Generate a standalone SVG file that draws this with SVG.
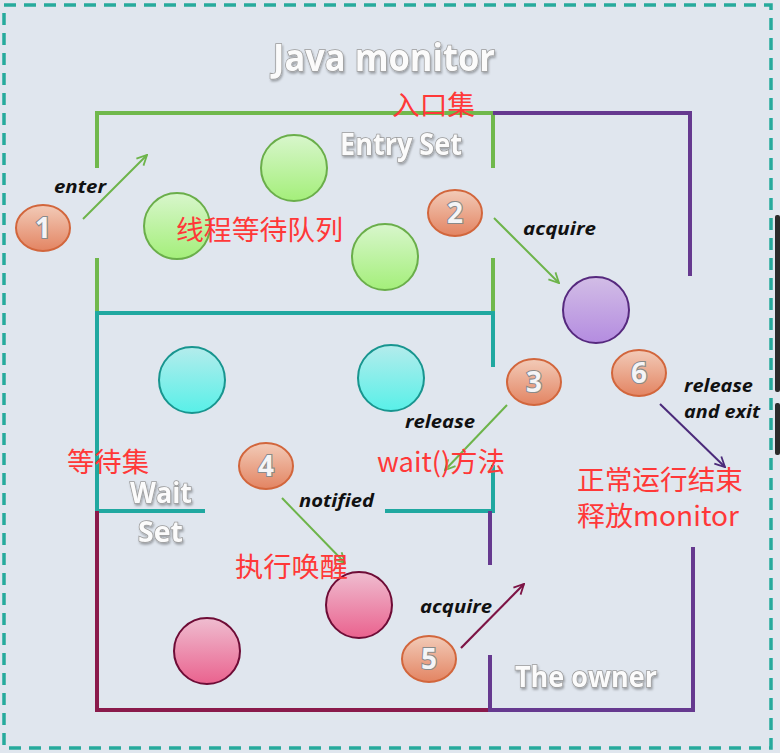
<svg xmlns="http://www.w3.org/2000/svg" width="780" height="753" viewBox="0 0 780 753">
<defs>
<linearGradient id="gGreen" x1="0" y1="0" x2="0" y2="1"><stop offset="0" stop-color="#d8f6cc"/><stop offset="1" stop-color="#a4ef7a"/></linearGradient>
<linearGradient id="gTeal" x1="0" y1="0" x2="0" y2="1"><stop offset="0" stop-color="#b4ecec"/><stop offset="1" stop-color="#58f0e8"/></linearGradient>
<linearGradient id="gPurple" x1="0" y1="0" x2="0" y2="1"><stop offset="0" stop-color="#d2bde6"/><stop offset="1" stop-color="#b48ce0"/></linearGradient>
<linearGradient id="gPink" x1="0" y1="0" x2="0" y2="1"><stop offset="0" stop-color="#efbdd0"/><stop offset="1" stop-color="#ea628e"/></linearGradient>
<linearGradient id="gOrange" x1="0" y1="0" x2="0" y2="1"><stop offset="0" stop-color="#f2cbb8"/><stop offset="1" stop-color="#e38462"/></linearGradient>
<filter id="shadow" x="-10%" y="-10%" width="120%" height="130%"><feDropShadow dx="1" dy="2" stdDeviation="1.2" flood-color="#000" flood-opacity="0.3"/></filter>
<marker id="mGreen" viewBox="0 0 12 12" refX="11" refY="6" markerWidth="12" markerHeight="12" markerUnits="userSpaceOnUse" orient="auto"><path d="M1,1 L11,6 L1,11" fill="none" stroke="#6db44a" stroke-width="1.8"/></marker>
<marker id="mPurple" viewBox="0 0 12 12" refX="11" refY="6" markerWidth="12" markerHeight="12" markerUnits="userSpaceOnUse" orient="auto"><path d="M1,1 L11,6 L1,11" fill="none" stroke="#4b2a7a" stroke-width="1.8"/></marker>
<marker id="mMaroon" viewBox="0 0 12 12" refX="11" refY="6" markerWidth="12" markerHeight="12" markerUnits="userSpaceOnUse" orient="auto"><path d="M1,1 L11,6 L1,11" fill="none" stroke="#7d1445" stroke-width="1.8"/></marker>
</defs>
<style>
.bg{fill:#e0e6ee}
.frame{fill:none;stroke:#26aa9c;stroke-width:3.5;stroke-dasharray:12 8}
.gl{fill:none;stroke:#70b84c;stroke-width:4}
.tl{fill:none;stroke:#20a8a0;stroke-width:4}
.pl{fill:none;stroke:#66398f;stroke-width:4}
.ml{fill:none;stroke:#8a1a4b;stroke-width:4}
.cg{fill:url(#gGreen);stroke:#6aae4a;stroke-width:2}
.ct{fill:url(#gTeal);stroke:#18958f;stroke-width:2}
.cp{fill:url(#gPurple);stroke:#56297e;stroke-width:2}
.ck{fill:url(#gPink);stroke:#6e0c36;stroke-width:2}
.badge{fill:url(#gOrange);stroke:#d2663c;stroke-width:2}
.num{font-family:"Open Sans","Liberation Sans",sans-serif;font-weight:bold;font-size:28px;fill:#f4f4f6;stroke:#8a8a8a;stroke-width:2.2;paint-order:stroke;text-anchor:middle}
.head{font-family:"Open Sans","Liberation Sans",sans-serif;font-weight:bold;fill:#fbfbfb;stroke:#9a9a9a;stroke-width:1.6;paint-order:stroke}
.lbl{font-family:"Open Sans","Liberation Sans",sans-serif;font-weight:bold;font-style:italic;font-size:17px;fill:#111}
.red{font-family:"Noto Sans CJK SC","Liberation Sans",sans-serif;font-size:27px;fill:#ff3838}
.ag{fill:none;stroke:#6db44a;stroke-width:2;marker-end:url(#mGreen)}
.ap{fill:none;stroke:#4b2a7a;stroke-width:2;marker-end:url(#mPurple)}
.am{fill:none;stroke:#7d1445;stroke-width:2.2;marker-end:url(#mMaroon)}
</style>
<rect class="bg" x="0" y="0" width="780" height="753"/>
<rect class="frame" x="4" y="5" width="767" height="743"/>
<rect x="775" y="215" width="5" height="177" rx="2" fill="#2b2b2b"/>
<rect x="775" y="403" width="5" height="52" rx="2" fill="#2b2b2b"/>

<g id="title"><text class="head" x="384" y="71" font-size="38" text-anchor="middle" textLength="222" lengthAdjust="spacingAndGlyphs" filter="url(#shadow)">Java monitor</text></g>

<g id="entry-set">
<path class="gl" d="M97,168 V113 H493 V168"/>
<path class="gl" d="M97,258 V313"/>
<path class="gl" d="M493,258 V313"/>
<text class="head" x="340" y="155" font-size="30" textLength="122" lengthAdjust="spacingAndGlyphs" filter="url(#shadow)">Entry Set</text>
<circle class="cg" cx="294" cy="168" r="33"/>
<circle class="cg" cx="177" cy="226" r="33"/>
<circle class="cg" cx="385" cy="257" r="33"/>
</g>

<g id="wait-set">
<path class="tl" d="M205,511 H97 V313 H493 V367"/>
<path class="tl" d="M385,511 H493 V465"/>
<text class="head" x="130" y="503" font-size="29" textLength="62" lengthAdjust="spacingAndGlyphs" filter="url(#shadow)">Wait</text>
<text class="head" x="138" y="542" font-size="29" textLength="45" lengthAdjust="spacingAndGlyphs" filter="url(#shadow)">Set</text>
<circle class="ct" cx="192" cy="380" r="33"/>
<circle class="ct" cx="391" cy="378" r="33"/>
</g>

<g id="notified-area">
<path class="ml" d="M97,511 V710 H490"/>
<ellipse class="ck" cx="359" cy="605" rx="33" ry="33"/>
<ellipse class="ck" cx="207" cy="651" rx="33" ry="33"/>
</g>

<g id="owner">
<path class="pl" d="M493,113 H690 V276"/>
<path class="pl" d="M490,511 V565"/>
<path class="pl" d="M490,655 V710 H693 V547"/>
<text class="head" x="515" y="687" font-size="28" textLength="142" lengthAdjust="spacingAndGlyphs" filter="url(#shadow)">The owner</text>
<circle class="cp" cx="596" cy="310" r="33"/>
</g>

<g id="connectors">
<line class="ag" x1="83" y1="219" x2="147" y2="155"/>
<line class="ag" x1="494" y1="218" x2="559" y2="283"/>
<line class="ag" x1="507" y1="405" x2="445" y2="470"/>
<line class="ag" x1="282" y1="498" x2="345" y2="563"/>
<line class="am" x1="461" y1="648" x2="524" y2="584"/>
<line class="ap" x1="660" y1="404" x2="725" y2="467"/>
</g>

<g id="badges">
<g id="b1"><ellipse class="badge" cx="43" cy="228" rx="27" ry="23"/><text class="num" x="43" y="238">1</text></g>
<g id="b2"><ellipse class="badge" cx="455" cy="213" rx="27" ry="23"/><text class="num" x="455" y="223">2</text></g>
<g id="b3"><ellipse class="badge" cx="534" cy="382" rx="27" ry="23"/><text class="num" x="534" y="392">3</text></g>
<g id="b4"><ellipse class="badge" cx="266" cy="466" rx="27" ry="23"/><text class="num" x="266" y="476">4</text></g>
<g id="b5"><ellipse class="badge" cx="429" cy="659" rx="27" ry="23"/><text class="num" x="429" y="669">5</text></g>
<g id="b6"><ellipse class="badge" cx="639" cy="373" rx="27" ry="23"/><text class="num" x="639" y="383">6</text></g>
</g>

<g id="labels">
<text class="lbl" x="54" y="193" textLength="52" lengthAdjust="spacingAndGlyphs">enter</text>
<text class="lbl" x="523" y="235" textLength="73" lengthAdjust="spacingAndGlyphs">acquire</text>
<text class="lbl" x="405" y="428" textLength="70" lengthAdjust="spacingAndGlyphs">release</text>
<text class="lbl" x="299" y="507" textLength="75" lengthAdjust="spacingAndGlyphs">notified</text>
<text class="lbl" x="420" y="613" textLength="72" lengthAdjust="spacingAndGlyphs">acquire</text>
<text class="lbl" x="684" y="392" textLength="69" lengthAdjust="spacingAndGlyphs">release</text>
<text class="lbl" x="684" y="418" textLength="76" lengthAdjust="spacingAndGlyphs">and exit</text>
</g>

<g id="annotations">
<text class="red" x="392" y="115" textLength="83" lengthAdjust="spacingAndGlyphs">入口集</text>
<text class="red" x="176" y="240" textLength="167" lengthAdjust="spacingAndGlyphs">线程等待队列</text>
<text class="red" x="67" y="472" textLength="82" lengthAdjust="spacingAndGlyphs">等待集</text>
<text class="red" x="377" y="472" textLength="128" lengthAdjust="spacingAndGlyphs">wait()方法</text>
<text class="red" x="235" y="577" textLength="113" lengthAdjust="spacingAndGlyphs">执行唤醒</text>
<text class="red" x="577" y="490" textLength="166" lengthAdjust="spacingAndGlyphs">正常运行结束</text>
<text class="red" x="577" y="526" textLength="162" lengthAdjust="spacingAndGlyphs">释放monitor</text>
</g>
</svg>
